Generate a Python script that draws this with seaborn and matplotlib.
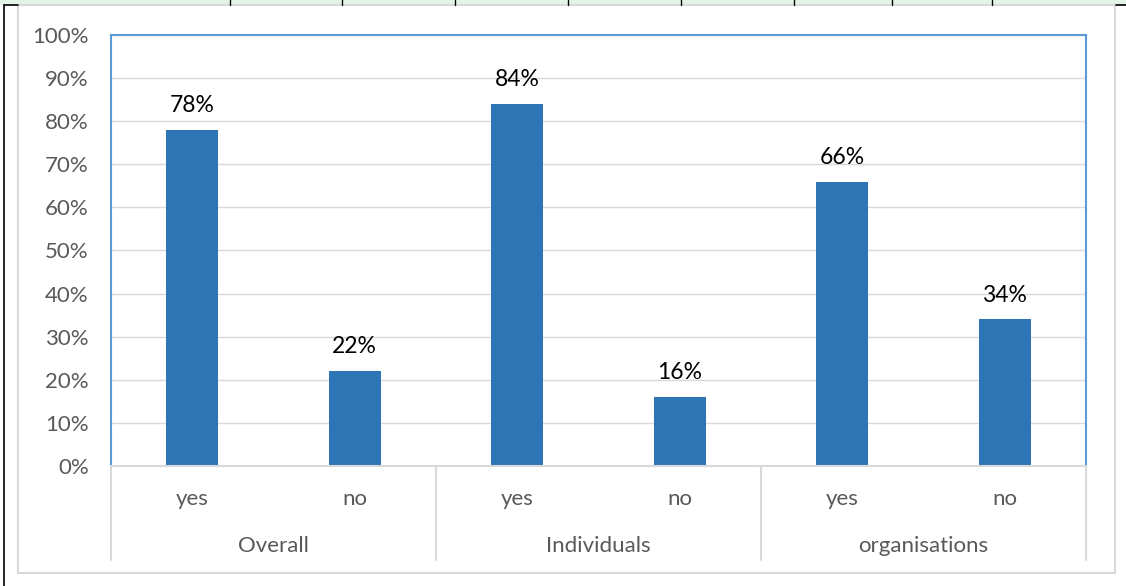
import matplotlib
matplotlib.use("Agg")
import matplotlib.pyplot as plt
import seaborn as sns
import pandas as pd
from matplotlib.patches import Rectangle
from matplotlib.lines import Line2D
from matplotlib.ticker import FuncFormatter

groups = ["Overall", "Individuals", "organisations"]
answers = ["yes", "no"]
values = [78, 22, 84, 16, 66, 34]

sns.set_theme(style="white")
plt.rcParams["font.family"] = ["Lato", "DejaVu Sans"]

W, H = 1126, 586
fig = plt.figure(figsize=(W / 100, H / 100), dpi=100)

def px_rect(x0, y0, x1, y1):
    return [x0 / W, 1 - y1 / H, (x1 - x0) / W, (y1 - y0) / H]

# spreadsheet background decorations
fig.patches.append(Rectangle((0, 1 - 5 / H), 1, 5 / H, transform=fig.transFigure,
                             facecolor="#e2f3e8", edgecolor="none", zorder=-2))
for xc in [230, 342, 455, 568, 681, 794, 892, 992]:
    fig.lines.append(Line2D([xc / W, xc / W], [1, 1 - 5 / H], transform=fig.transFigure,
                            color="black", lw=1))
fig.lines.append(Line2D([4 / W, 4 / W], [1 - 5 / H, 0], transform=fig.transFigure, color="black", lw=1.2))
fig.lines.append(Line2D([4 / W, 18 / W], [1 - 5 / H, 1 - 5 / H], transform=fig.transFigure, color="black", lw=1.2))
fig.lines.append(Line2D([1116 / W, 1 ], [1 - 5 / H, 1 - 5 / H], transform=fig.transFigure, color="black", lw=1.2))
# chart area border
fig.patches.append(Rectangle((18 / W, 1 - 573 / H), (1115 - 18) / W, (573 - 5) / H,
                             transform=fig.transFigure, facecolor="white",
                             edgecolor="#d9d9d9", lw=1.5, zorder=-1))

ax = fig.add_axes(px_rect(111, 35, 1086, 466))
ax.set_zorder(1)
ax.patch.set_alpha(0)
cats = [f"{g}|{a}" for g in groups for a in answers]
df = pd.DataFrame({"cat": cats, "value": values})
sns.barplot(data=df, x="cat", y="value", order=cats, color="#2e75b6", saturation=1,
            width=0.32, ax=ax, zorder=3, linewidth=0, edgecolor="none")
ax.set_ylim(0, 100)
ax.set_xlim(-0.5, 5.5)
ax.set_yticks(range(0, 101, 10))
ax.yaxis.set_major_formatter(FuncFormatter(lambda v, p: f"{int(v)}%"))
ax.tick_params(axis="y", labelsize=16, colors="#595959", length=0, pad=16)
ax.set_xticks([])
ax.set_xlabel("")
ax.set_ylabel("")
ax.grid(axis="y", color="#d9d9d9", lw=1, zorder=0)
ax.set_axisbelow(True)
for s in ["left", "top", "right"]:
    ax.spines[s].set_color("#5b9bd5")
    ax.spines[s].set_linewidth(1.5)
ax.spines["bottom"].set_color("#d9d9d9")
ax.spines["bottom"].set_linewidth(1.5)
ax.spines["bottom"].set_zorder(4)

for i, v in enumerate(values):
    ax.annotate(f"{v}%", (i, v), xytext=(0, 10), textcoords="offset points",
                ha="center", va="bottom", fontsize=16.5, color="black")

ax_h = 466 - 35
trans = ax.get_xaxis_transform()
for i, a in enumerate(answers * len(groups)):
    ax.text(i, -(499 - 466) / ax_h, a, transform=trans, ha="center", va="center",
            fontsize=16, color="#595959")
for gi, g in enumerate(groups):
    ax.text(gi * 2 + 0.5, -(546 - 466) / ax_h, g, transform=trans, ha="center", va="center",
            fontsize=16, color="#595959")
for xs in [-0.5, 1.5, 3.5, 5.5]:
    ax.plot([xs, xs], [0, -(560 - 466) / ax_h], transform=trans, color="#d9d9d9",
            lw=1.5, clip_on=False, zorder=1)

fig.savefig("out.png", dpi=100)
